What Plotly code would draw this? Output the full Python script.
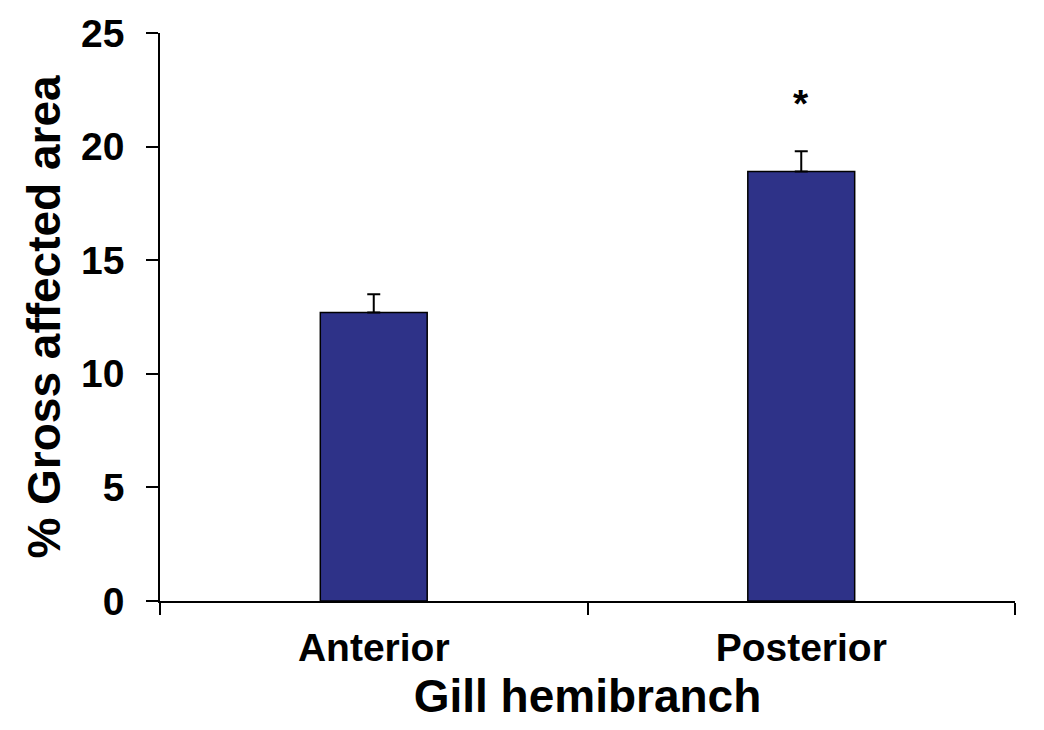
import plotly.graph_objects as go

# Gross affected area per gill hemibranch (mean + SE)
categories = ["Anterior", "Posterior"]
mean_area = [12.7, 18.9]
se_area = [0.8, 0.9]
significance = ["", "*"]

bar_color = "#2E3288"
font_family = "Liberation Sans, Arial, sans-serif"

fig = go.Figure()
fig.add_trace(go.Bar(
    x=categories,
    y=mean_area,
    width=0.25,
    marker=dict(color=bar_color, line=dict(color="black", width=1.5)),
    error_y=dict(
        type="data",
        array=se_area,
        arrayminus=[0] * len(se_area),
        symmetric=False,
        color="black",
        thickness=2,
        width=6.5,
    ),
    showlegend=False,
))

# significance markers above the error bars
for cat, m, s, mark in zip(categories, mean_area, se_area, significance):
    if mark:
        fig.add_annotation(
            x=cat, y=m + s + 2.1, text=mark, showarrow=False,
            xanchor="center", yanchor="middle",
            font=dict(family=font_family, size=39, color="black", weight="bold"),
        )

fig.update_layout(
    width=1044, height=730,
    margin=dict(l=160, r=29, t=30, b=129),
    paper_bgcolor="white", plot_bgcolor="white",
    font=dict(family=font_family, color="black", weight="bold"),
    bargap=0.75,
)

fig.update_xaxes(
    type="category",
    range=[-0.5, 1.5],
    tickson="boundaries",
    ticks="outside", ticklen=12, tickwidth=1.5, tickcolor="black",
    showline=True, linecolor="black", linewidth=1.5,
    showgrid=False, zeroline=False,
    tickfont=dict(size=39, family=font_family, weight="bold"),
    ticklabelstandoff=11,
    title=dict(text="Gill hemibranch", font=dict(size=46, family=font_family, weight="bold"), standoff=12),
)

fig.update_yaxes(
    range=[0, 25], dtick=5, tick0=0,
    ticks="outside", ticklen=12, tickwidth=1.5, tickcolor="black",
    showline=True, linecolor="black", linewidth=1.5,
    showgrid=False, zeroline=False,
    tickfont=dict(size=39, family=font_family, weight="bold"),
    ticklabelstandoff=14,
    title=dict(text="% Gross affected area", font=dict(size=46, family=font_family, weight="bold"), standoff=6),
)

fig.write_html("out.html")
